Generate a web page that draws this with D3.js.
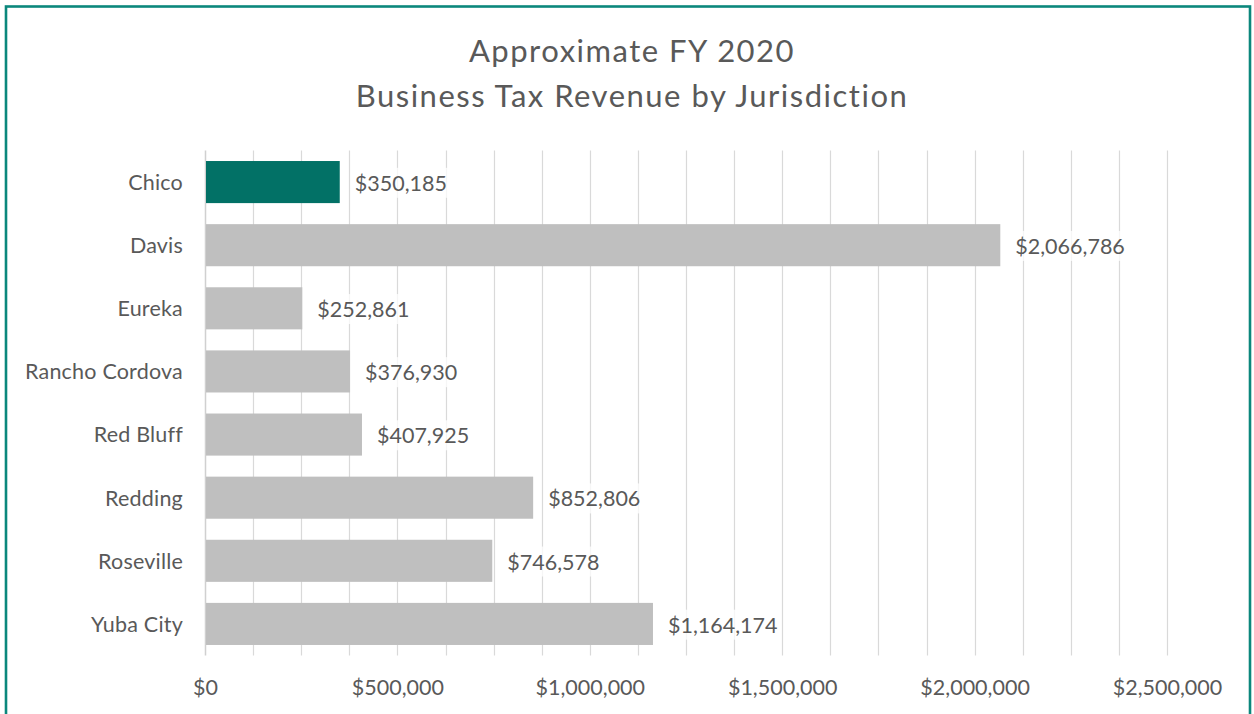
<!DOCTYPE html>
<html>
<head>
<meta charset="utf-8">
<script src="https://cdn.jsdelivr.net/npm/d3@7/dist/d3.min.js"></script>
<style>
  html, body { margin: 0; padding: 0; background: #fff; }
  svg { display: block; }
  text { font-family: Lato, "Open Sans", sans-serif; fill: #595959; }
</style>
</head>
<body>
<svg id="chart" width="1254" height="714"></svg>
<script>
// FY 2020 business tax revenue, one value per jurisdiction
const categories = ["Chico", "Davis", "Eureka", "Rancho Cordova", "Red Bluff", "Redding", "Roseville", "Yuba City"];
const revenue = [350185, 2066786, 252861, 376930, 407925, 852806, 746578, 1164174];
const highlight = ["Chico"];
const tickValues = [0, 500000, 1000000, 1500000, 2000000, 2500000];
const gridStep = 125000;
const titleLines = ["Approximate FY 2020", "Business Tax Revenue by Jurisdiction"];

const W = 1254, H = 714;
const plot = { left: 205, right: 1167, top: 150.5, bottom: 655.5 };

const svg = d3.select("#chart");

// Outer chart frame
svg.append("rect")
  .attr("x", 6).attr("y", 6.5)
  .attr("width", 1244).attr("height", H + 20)
  .attr("fill", "none")
  .attr("stroke", "#0b877c")
  .attr("stroke-width", 2.6);

// Title
svg.append("g").selectAll("text")
  .data(titleLines)
  .join("text")
  .attr("x", 632)
  .attr("y", (d, i) => 62 + i * 45)
  .attr("text-anchor", "middle")
  .style("font-size", "31px")
  .style("letter-spacing", "1.5px")
  .text(d => d);

const x = d3.scaleLinear().domain([0, 2500000]).range([plot.left, plot.right]);
const y = d3.scaleBand()
  .domain(categories)
  .range([plot.top, plot.bottom])
  .paddingInner(1 / 3)
  .paddingOuter(1 / 6);

// Vertical gridlines
const gridVals = d3.range(gridStep, 2500000 + 1, gridStep);
svg.append("g")
  .selectAll("line")
  .data(gridVals)
  .join("line")
  .attr("x1", d => Math.round(x(d)) + 0.5)
  .attr("x2", d => Math.round(x(d)) + 0.5)
  .attr("y1", plot.top)
  .attr("y2", plot.bottom)
  .attr("stroke", "#d9d9d9")
  .attr("stroke-width", 1.2);

// Value axis labels
const xAxis = d3.axisBottom(x)
  .tickValues(tickValues)
  .tickSize(0)
  .tickPadding(0)
  .tickFormat(d => "$" + d3.format(",")(d));
const gx = svg.append("g")
  .attr("transform", `translate(0, ${plot.bottom + 39})`)
  .call(xAxis);
gx.select(".domain").remove();
gx.selectAll("text")
  .attr("dy", 0)
  .style("font-size", "21.5px")
  .style("font-family", "Lato, 'Open Sans', sans-serif")
  .attr("fill", "#595959");

// Category axis
const yAxis = d3.axisLeft(y).tickSize(0).tickPadding(22);
const gy = svg.append("g")
  .attr("transform", `translate(${plot.left}, 1)`)
  .call(yAxis);
gy.select(".domain").remove();
gy.selectAll("text")
  .style("font-size", "21.5px")
  .style("letter-spacing", "0.2px")
  .style("font-family", "Lato, 'Open Sans', sans-serif")
  .attr("fill", "#595959");

svg.append("line")
  .attr("x1", plot.left + 0.5).attr("x2", plot.left + 0.5)
  .attr("y1", plot.top).attr("y2", plot.bottom)
  .attr("stroke", "#d0d0d0")
  .attr("stroke-width", 1.5);

const rows = categories.map((c, i) => ({ name: c, value: revenue[i] }));

// Bars
svg.append("g")
  .selectAll("rect")
  .data(rows)
  .join("rect")
  .attr("x", x(0) + 1)
  .attr("y", d => y(d.name))
  .attr("width", d => x(d.value) - x(0) - 1)
  .attr("height", y.bandwidth())
  .attr("fill", d => highlight.includes(d.name) ? "#027166" : "#bfbfbf");

// Value labels with a soft white backing
const fmt = d => "$" + d3.format(",")(d);
const labels = svg.append("g")
  .selectAll("g")
  .data(rows)
  .join("g")
  .attr("transform", d => `translate(${x(d.value) + 15}, ${y(d.name) + y.bandwidth() / 2 + 1})`);

labels.append("text")
  .attr("dy", "0.36em")
  .style("font-size", "21.5px")
  .text(d => fmt(d.value))
  .each(function () {
    const bb = this.getBBox();
    d3.select(this.parentNode).insert("rect", "text")
      .attr("x", bb.x - 3).attr("y", bb.y - 2)
      .attr("width", bb.width + 6).attr("height", bb.height + 4)
      .attr("fill", "#fff")
      .attr("fill-opacity", 0.75);
  });
</script>
</body>
</html>
